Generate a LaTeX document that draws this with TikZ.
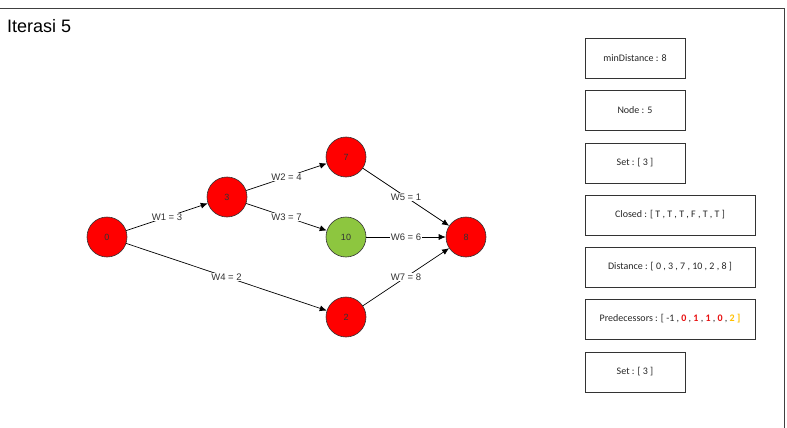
\documentclass[tikz,border=0pt]{standalone}
\usepackage{fontspec}
\setmainfont{Liberation Sans}
\newfontfamily\calibrifont{Carlito}
\usetikzlibrary{arrows.meta}
\definecolor{nred}{HTML}{FF0000}
\definecolor{ngreen}{HTML}{8DC63F}
\definecolor{pred}{HTML}{E81010}
\definecolor{pgold}{HTML}{FFC000}
\tikzset{
  vert/.style={circle, draw=black!80, line width=0.6pt, minimum size=40pt, inner sep=0pt, font=\fontsize{9}{10}\selectfont, text=black!80},
  redv/.style={vert, fill=nred},
  greenv/.style={vert, fill=ngreen},
  edge/.style={-{Latex[length=7pt,width=6pt]}, line width=0.7pt, black},
  wlab/.style={fill=white, inner sep=1pt, font=\fontsize{9.5}{11}\selectfont, text=black!80},
  infobox/.style={draw=black!80, line width=0.7pt, minimum height=40pt, inner sep=0pt, font=\calibrifont\fontsize{10}{12}\selectfont, text=black!85},
}
\begin{document}
\begin{tikzpicture}[x=1pt,y=-1pt]
\useasboundingbox (0,0) rectangle (787,428);
\draw[line width=1pt, black!75] (0,8.5) -- (784,8.5) -- (784,428);
\node[anchor=west, inner sep=0pt, font=\fontsize{18}{20}\selectfont] (title) at (7,26) {Iterasi 5};
% vertices
\node[redv] (n0) at (107,237) {0};
\node[redv] (n3) at (227,197) {3};
\node[redv] (n7) at (346,157) {7};
\node[greenv] (n10) at (346,237) {10};
\node[redv] (n8) at (466,237) {8};
\node[redv] (n2) at (346,317) {2};
% edges
\draw[edge] (n0) -- node[wlab, pos=0.5] {W1 = 3} (n3);
\draw[edge] (n3) -- node[wlab, pos=0.5] {W2 = 4} (n7);
\draw[edge] (n3) -- node[wlab, pos=0.5] {W3 = 7} (n10);
\draw[edge] (n0) -- node[wlab, pos=0.5] {W4 = 2} (n2);
\draw[edge] (n7) -- node[wlab, pos=0.5] {W5 = 1} (n8);
\draw[edge] (n10) -- node[wlab, pos=0.5] {W6 = 6} (n8);
\draw[edge] (n2) -- node[wlab, pos=0.5] {W7 = 8} (n8);
% info boxes
\node[infobox, minimum width=100pt] (b1) at (635,58) {minDistance : 8};
\node[infobox, minimum width=100pt] (b2) at (635,110) {Node : 5};
\node[infobox, minimum width=100pt] (b3) at (635,163) {Set : [ 3 ]};
\node[infobox, minimum width=170pt] (b4) at (670,215) {Closed : [ T , T , T , F , T , T ]};
\node[infobox, minimum width=170pt] (b5) at (670,267) {Distance : [ 0 , 3 , 7 , 10 , 2 , 8 ]};
\node[infobox, minimum width=170pt] (b6) at (670,319) {Predecessors : [ -1 , \textcolor{pred}{\bfseries 0} , \textcolor{pred}{\bfseries 1} , \textcolor{pred}{\bfseries 1} , \textcolor{pred}{\bfseries 0} , \textcolor{pgold}{\bfseries 2 ]}};
\node[infobox, minimum width=100pt] (b7) at (635,372) {Set : [ 3 ]};
\end{tikzpicture}
\end{document}
